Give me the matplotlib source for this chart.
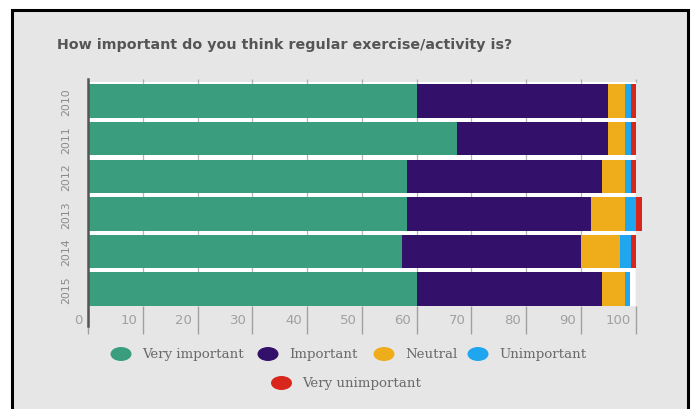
import matplotlib
matplotlib.use("Agg")
import matplotlib.pyplot as plt
from matplotlib.patches import Rectangle, Ellipse
import numpy as np

# ---- data ----
years = ['2010', '2011', '2012', '2013', '2014', '2015']
categories = ['Very important', 'Important', 'Neutral', 'Unimportant', 'Very unimportant']
very_important = [60.0, 67.3, 58.2, 58.2, 57.3, 60.0]
important = [35.0, 27.7, 35.7, 33.7, 32.7, 33.9]
neutral = [3.0, 3.0, 4.1, 6.2, 7.1, 4.1]
unimportant = [1.1, 1.1, 1.1, 1.9, 2.1, 1.0]
very_unimportant = [0.9, 0.9, 0.9, 1.1, 0.8, 0.0]
xtick_values = [0, 10, 20, 30, 40, 50, 60, 70, 80, 90, 100]
title = 'How important do you think regular exercise/activity is?'

series = [very_important, important, neutral, unimportant, very_unimportant]
colors = ['#3a9e7e', '#33116a', '#f0ad1b', '#1fa6ee', '#d9261c']

W, H = 692, 410
fig = plt.figure(figsize=(W / 100, H / 100), dpi=100, facecolor='white')

# grey panel with black border
panel = Rectangle((12 / W, -0.05), 676 / W, (410 - 11) / H + 0.05,
                  transform=fig.transFigure, facecolor='#e6e6e6',
                  edgecolor='black', linewidth=2.2, zorder=-10)
fig.patches.append(panel)

fig.text(57 / W, 1 - 45 / H, title, fontsize=10.3, fontweight='bold',
         color='#555555', family='DejaVu Sans', va='center', ha='left')

ax = fig.add_axes([88 / W, 1 - 307 / H, (635.7 - 87.9) / W, 224 / H])
ax.set_facecolor('none')
for s in ax.spines.values():
    s.set_visible(False)

y = np.arange(len(years))
ax.set_xlim(0, 100)
ax.set_ylim(5.45, -0.51)

# white row backgrounds
ax.barh(y, [100] * len(years), height=1.0, color='white', zorder=0.5, linewidth=0)
# grid
ax.vlines(xtick_values, 0, 1, transform=ax.get_xaxis_transform(),
          color='#b5b5b5', linewidth=0.9, zorder=1)

left = np.zeros(len(years))
for vals, c in zip(series, colors):
    ax.barh(y, vals, left=left, height=0.89, color=c, linewidth=0, zorder=2, clip_on=False)
    left += np.array(vals)

# y axis labels
ax.set_yticks(y)
ax.set_yticklabels(years, rotation=90, va='center', fontsize=7.8, color='#8a8a8a',
                   family='DejaVu Sans')
ax.tick_params(axis='y', length=0, pad=12)

# x ticks (long, downward) and labels to the left of the tick
ax.set_xticks(xtick_values)
ax.set_xticklabels([''] * len(xtick_values))
ax.tick_params(axis='x', length=20, color='#a0a0a0', width=1, direction='out')
xt = ax.get_xaxis_transform()
for v in xtick_values:
    ax.text(v - 1.0, -14 / 224, str(v), transform=xt, ha='right', va='center',
            fontsize=9.5, color='#a0a0a0', family='DejaVu Sans')
# small top ticks
ax.vlines(xtick_values, 1.0, 1.0 + 3 / 224, transform=xt, color='#aaaaaa',
          linewidth=0.9, clip_on=False)
# left axis line
ax.plot([0, 0], [-20 / 224, 1.0 + 3 / 224], transform=xt, color='#555555',
        linewidth=1.8, clip_on=False, zorder=5)

# legend (manual, centered rows)
lax = fig.add_axes([0, 0, 1, 1])
lax.set_xlim(0, W)
lax.set_ylim(H, 0)
lax.axis('off')
lax.set_facecolor('none')
legend_pos = [(121, 355), (268, 355), (384, 355), (478, 355), (281.5, 384)]
for (cx, cy), lab, c in zip(legend_pos, categories, colors):
    lax.add_patch(Ellipse((cx, cy), 21, 14, facecolor=c, edgecolor='none'))
    lax.text(cx + 21, cy, lab, fontsize=9.6, color='#6a6a6a', va='center', ha='left',
             family='DejaVu Serif')

fig.savefig('out.png', dpi=100, facecolor='white')
